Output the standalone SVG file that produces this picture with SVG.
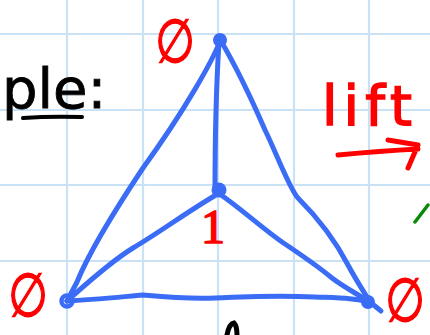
<svg xmlns="http://www.w3.org/2000/svg" width="430" height="335" viewBox="0 0 430 335">
<style>
.grid{stroke:#c9e2f6;stroke-width:2.2;fill:none}
.edge{stroke:#3b6cf6;stroke-width:5;fill:none;stroke-linecap:round;stroke-linejoin:round}
.dot{fill:#3b6cf6;stroke:#3b6cf6;stroke-width:3}
.red{fill:#ff0000;font-family:"DejaVu Sans",sans-serif}
.empty{fill:#ff0000;stroke:#ff0000;stroke-width:1.4;font-family:"DejaVu Sans",sans-serif;font-size:60px}
.redline{stroke:#ff0000;stroke-width:5;fill:none;stroke-linecap:round;stroke-linejoin:round}
.ink{fill:#000;font-family:"DejaVu Sans",sans-serif}
</style>
<rect width="430" height="335" fill="#ffffff"/>
<g id="grid">
<path class="grid" d="M67,0V335M143,0V335M218,0V335M294,0V335M369,0V335M0,34H430M0,110H430M0,185H430M0,261H430"/>
</g>
<g id="connectors">
<path class="edge" d="M220,41 C213,60 185,110 143,168 C115,210 90,250 77,282 L67,301"/>
<path class="edge" d="M221,41 C235,65 252,100 265,130 C275,150 290,190 298,198 C315,215 335,240 348,265 C356,280 364,292 370,302"/>
<path class="edge" d="M219,42 C216,90 215,140 215,190"/>
<path class="edge" d="M216,195 C190,210 160,232 133,248 C110,262 85,285 67,301"/>
<path class="edge" d="M221,195 C240,208 262,228 282,242 C300,254 320,268 332,278 C345,288 358,294 369,302"/>
<path class="edge" d="M67,301 C90,300 120,297 143,295 C165,297 185,299 215,298 C245,297 270,295 315,297 C340,298 355,298 369,302"/>
</g>
<g id="node-top">
<circle class="dot" cx="220" cy="40" r="5.5"/>
<text class="empty" transform="translate(175,62) scale(0.76,1)" text-anchor="middle">∅</text>
</g>
<g id="node-left">
<circle cx="67" cy="301" r="5.5" fill="none" stroke="#3b6cf6" stroke-width="4.5"/>
<text class="empty" transform="translate(28,316) scale(0.76,1)" text-anchor="middle">∅</text>
</g>
<g id="node-right">
<circle class="dot" cx="368" cy="302" r="5.5"/>
<path class="edge" d="M370,302 L381,311"/>
<text class="empty" transform="translate(405,321) scale(0.76,1)" text-anchor="middle">∅</text>
</g>
<g id="node-center">
<circle class="dot" cx="219" cy="190" r="6"/>
<text x="213" y="243" font-size="48" text-anchor="middle" fill="#ff0000" stroke="#ff0000" stroke-width="1.5" font-family="'Liberation Serif',serif">1</text>
</g>
<g id="title">
<text class="ink" x="2" y="108" font-size="56" stroke="#000" stroke-width="0.8">ple:</text>
<path d="M23,118 Q50,116 82,117" stroke="#000" stroke-width="4" fill="none" stroke-linecap="round"/>
</g>
<g id="lift">
<text class="red" x="322" y="125" font-size="56" stroke="#ff0000" stroke-width="1.5" textLength="90" lengthAdjust="spacing">lift</text>
<path class="redline" d="M338,155 Q380,151 418,149 M388,140 L418,145 L408,168"/>
</g>
<path d="M415,222 L428,205" stroke="#0a8a0a" stroke-width="3.5" fill="none" stroke-linecap="round"/>
<path d="M227,335 Q229,324 234,323 Q237,326 237,335" stroke="#000" stroke-width="5" fill="none" stroke-linecap="round"/>
</svg>
